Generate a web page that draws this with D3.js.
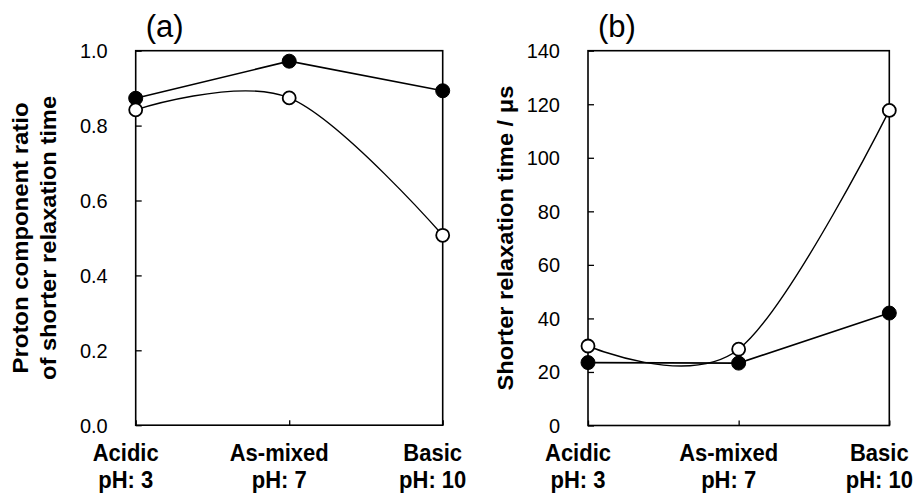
<!DOCTYPE html>
<html>
<head>
<meta charset="utf-8">
<script src="https://cdn.jsdelivr.net/npm/d3@7"></script>
<style>
  body { margin: 0; background: #fff; }
  svg { display: block; }
  text { font-family: "Liberation Sans", Arial, Helvetica, sans-serif; fill: #000; }
</style>
</head>
<body>
<svg id="chart" width="921" height="493"></svg>
<script>
// ---- data ----
const categories = ["Acidic", "As-mixed", "Basic"];
const phLabels = ["pH: 3", "pH: 7", "pH: 10"];
const ratioFilled = [0.873, 0.972, 0.893];
const ratioOpen = [0.842, 0.874, 0.507];
const timeFilled = [23.5, 23.3, 42.0];
const timeOpen = [29.7, 28.5, 117.7];
const ticksA = [0, 0.2, 0.4, 0.6, 0.8, 1.0];
const ticksB = [0, 20, 40, 60, 80, 100, 120, 140];

const svg = d3.select("#chart");

function panel(opts) {
  const { left, right, top, bottom, yMax, ticks, fmt, filled, open, tag, titleLines, titleX, titleLens } = opts;
  const x = d3.scalePoint().domain(categories).range([left, right]).padding(0);
  const y = d3.scaleLinear().domain([0, yMax]).range([bottom, top]);
  const g = svg.append("g");

  // frame
  g.append("rect").attr("x", left).attr("y", top)
    .attr("width", right - left).attr("height", bottom - top)
    .attr("fill", "none").attr("stroke", "#000").attr("stroke-width", 1.6);

  // y axis (ticks inward)
  const ya = g.append("g").attr("transform", `translate(${left},0)`)
    .call(d3.axisRight(y).tickValues(ticks).tickSize(6).tickFormat(() => ""));
  ya.select(".domain").remove();
  ya.selectAll("line").attr("stroke", "#000").attr("stroke-width", 1.3);
  g.selectAll(".ylab").data(ticks).enter().append("text")
    .attr("transform", d => `translate(${left - 28},${y(d)}) scale(1,1.04)`)
    .attr("dy", "0.36em")
    .attr("text-anchor", "end").attr("font-size", 20)
    .text(d => d3.format(fmt)(d));

  // x axis (ticks inward)
  const xa = g.append("g").attr("transform", `translate(0,${bottom})`)
    .call(d3.axisTop(x).tickSize(5).tickFormat(() => ""));
  xa.select(".domain").remove();
  xa.selectAll("line").attr("stroke", "#000").attr("stroke-width", 1.3);
  categories.forEach((c, i) => {
    g.append("text").attr("transform", `translate(${x(c) - 10},461) scale(1,1.1)`)
      .attr("text-anchor", "middle").attr("font-size", 22).attr("font-weight", "bold").text(c);
    g.append("text").attr("transform", `translate(${x(c) - 10},488) scale(1,1.1)`)
      .attr("text-anchor", "middle").attr("font-size", 22).attr("font-weight", "bold").text(phLabels[i]);
  });

  // panel tag
  g.append("text").attr("x", left + 29).attr("y", 37)
    .attr("text-anchor", "middle").attr("font-size", 31).text(tag);

  // y title
  titleLines.forEach((t, i) => {
    g.append("text")
      .attr("transform", `translate(${titleX[i]},${(top + bottom) / 2}) rotate(-90)`)
      .attr("text-anchor", "middle").attr("font-size", 22).attr("font-weight", "bold")
      .attr("textLength", titleLens[i]).attr("lengthAdjust", "spacingAndGlyphs")
      .text(t);
  });

  // lines
  const straight = d3.line().x((d, i) => x(categories[i])).y(d => y(d));
  const smooth = d3.line().x((d, i) => x(categories[i])).y(d => y(d)).curve(d3.curveCardinal.tension(0));
  g.append("path").datum(open).attr("d", smooth)
    .attr("fill", "none").attr("stroke", "#000").attr("stroke-width", 1.4);
  g.append("path").datum(filled).attr("d", straight)
    .attr("fill", "none").attr("stroke", "#000").attr("stroke-width", 1.6);

  // markers
  g.selectAll(".mf").data(filled).enter().append("circle")
    .attr("cx", (d, i) => x(categories[i])).attr("cy", d => y(d)).attr("r", 7)
    .attr("fill", "#000").attr("stroke", "#000").attr("stroke-width", 1);
  g.selectAll(".mo").data(open).enter().append("circle")
    .attr("cx", (d, i) => x(categories[i])).attr("cy", d => y(d)).attr("r", 6.5)
    .attr("fill", "#fff").attr("stroke", "#000").attr("stroke-width", 1.8);
}

panel({
  left: 135.7, right: 442.7, top: 50.7, bottom: 425.2, yMax: 1.0,
  ticks: ticksA, fmt: ".1f", filled: ratioFilled, open: ratioOpen, tag: "(a)",
  titleLines: ["Proton component ratio", "of shorter relaxation time"],
  titleX: [28.3, 55.5], titleLens: [271, 284]
});
panel({
  left: 588, right: 889.3, top: 50.7, bottom: 425.5, yMax: 140,
  ticks: ticksB, fmt: "d", filled: timeFilled, open: timeOpen, tag: "(b)",
  titleLines: ["Shorter relaxation time / μs"],
  titleX: [513], titleLens: [305]
});
</script>
</body>
</html>
